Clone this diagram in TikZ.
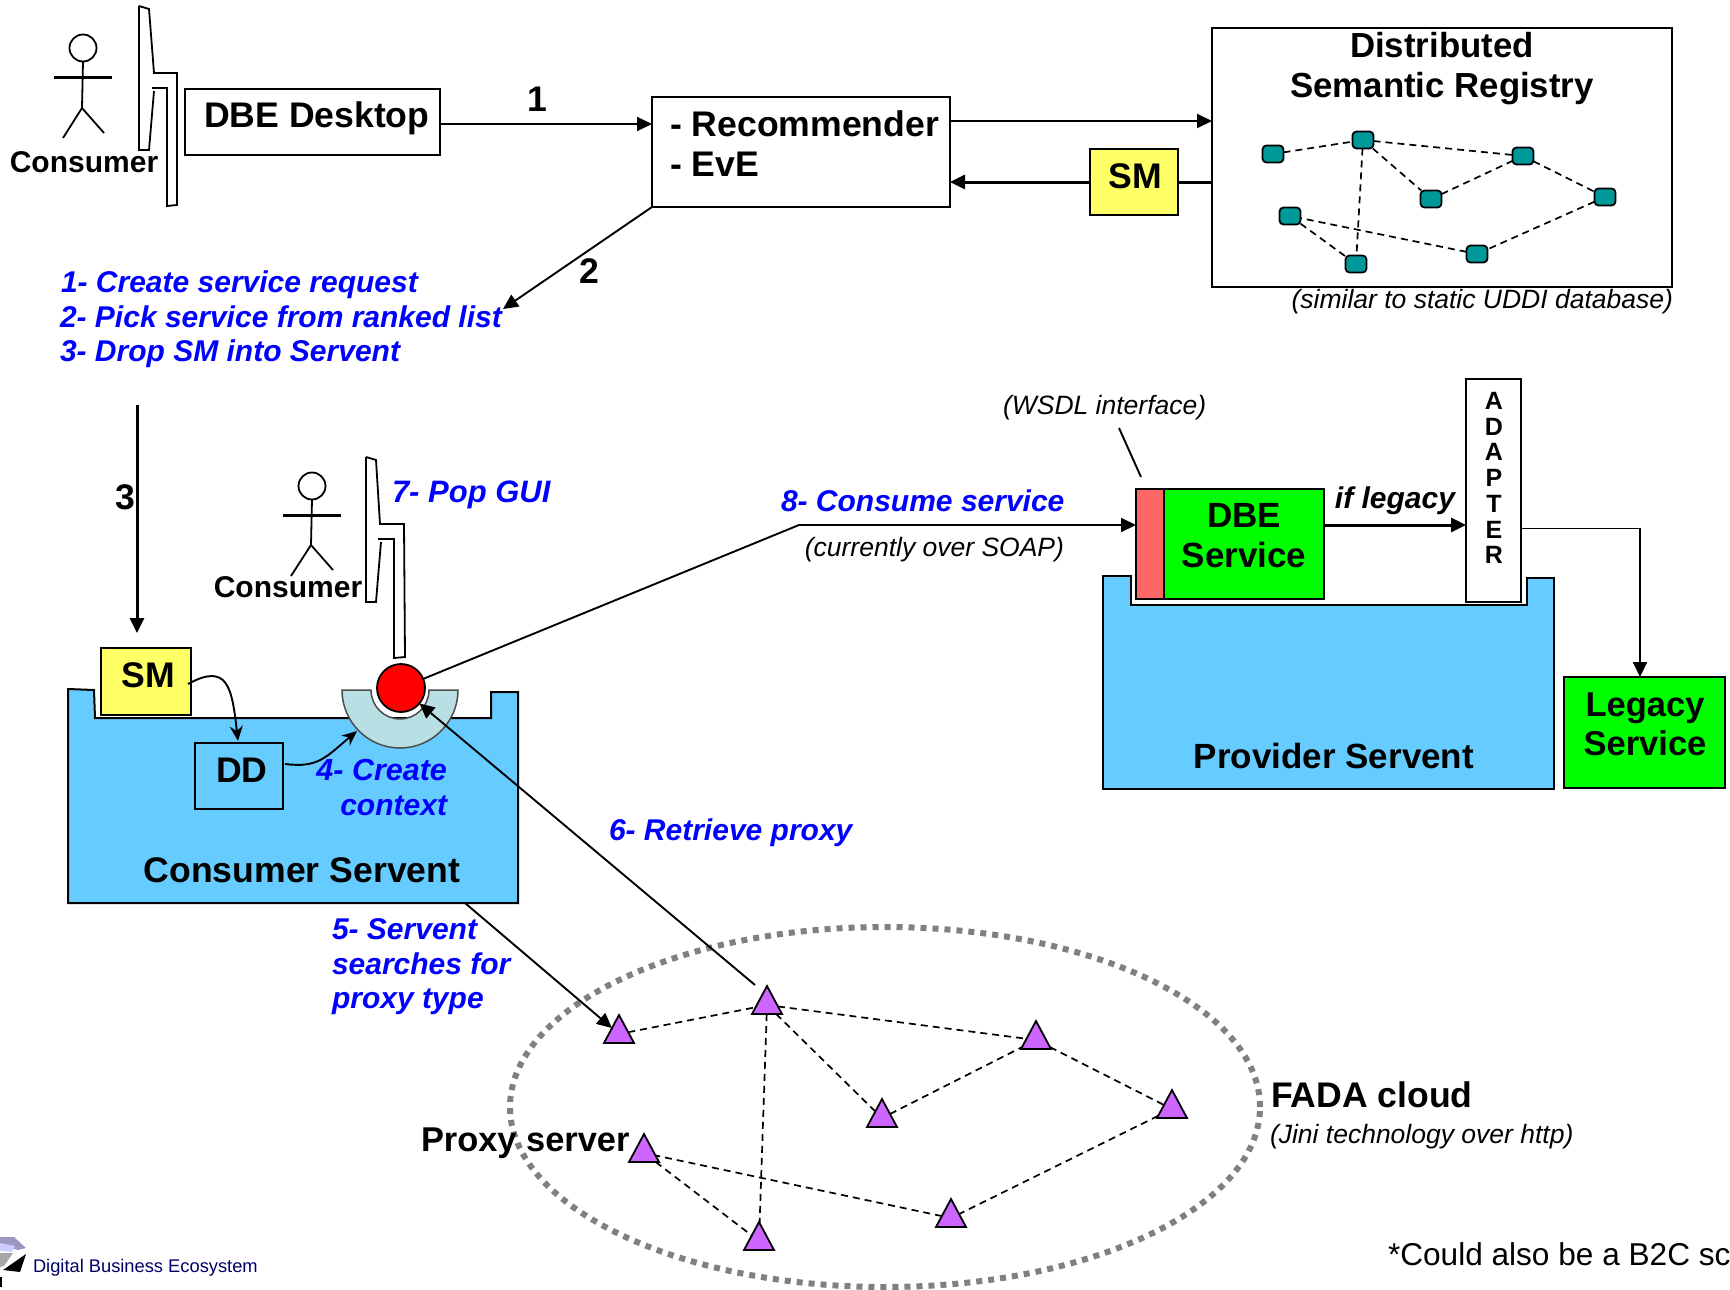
\documentclass[tikz,border=0pt]{standalone}
\usepackage{fontspec}
\setmainfont{Liberation Sans}
\usetikzlibrary{arrows.meta,shapes.geometric,calc}
\definecolor{dbeblue}{HTML}{0000FF}
\definecolor{sky}{HTML}{66CCFF}
\definecolor{smyellow}{HTML}{FFFF66}
\definecolor{dbegreen}{HTML}{00FF00}
\definecolor{wsdlpink}{HTML}{FF6666}
\definecolor{regteal}{HTML}{009999}
\definecolor{proxypurple}{HTML}{CC66FF}
\definecolor{bowlcol}{HTML}{B8DFE3}
\definecolor{navy}{HTML}{000066}
\tikzset{
  every node/.style={inner sep=0pt,outer sep=0pt},
  box/.style={draw=black,line width=2pt,rectangle},
  tb/.style={font=\fontsize{35}{40}\selectfont\bfseries,text=black,align=center},
  tbl/.style={font=\fontsize{35.6}{40}\selectfont\bfseries,text=black,align=center},
  tbs/.style={font=\fontsize{30}{34}\selectfont\bfseries,text=black,align=center},
  bluet/.style={font=\fontsize{30}{34.5}\selectfont\bfseries\itshape,text=dbeblue,align=left},
  note/.style={font=\fontsize{26.5}{30}\selectfont\itshape,text=black},
  thin line/.style={line width=1.9pt,draw=black},
  thick line/.style={line width=3pt,draw=black},
  tip/.style={-{Triangle[length=15pt,width=14pt]}},
  curvetip/.style={-{Stealth[length=15pt,width=13pt,inset=5pt]}},
  regnode/.style={draw=black,line width=1.8pt,fill=regteal,rectangle,rounded corners=4pt,minimum width=21pt,minimum height=17pt},
  proxy/.style={draw=black,line width=1.8pt,fill=proxypurple,isosceles triangle,shape border rotate=90,isosceles triangle stretches,minimum width=30pt,minimum height=28pt,anchor=apex},
  link/.style={line width=1.7pt,draw=black,dash pattern=on 7pt off 5pt},
  servent/.style={draw=black,line width=2pt,fill=sky},
  stick/.style={line width=1.8pt,draw=black},
  screen/.style={line width=1.8pt,draw=black}
}
\begin{document}
\begin{tikzpicture}[x=1pt,y=-1pt]
\useasboundingbox (0,0) rectangle (1730,1290);
\fill[white] (0,0) rectangle (1730,1290);

% servents
\draw[servent] (68,689) -- (94,690) -- (95,718) -- (491,718) -- (491,692) -- (518,692) -- (518,903) -- (68,903) -- cycle;
\draw[servent] (1103,576) -- (1131,576) -- (1131,605) -- (1527,605) -- (1527,578) -- (1554,578) -- (1554,789) -- (1103,789) -- cycle;

% consumer 1
\node[draw=black,line width=1.8pt,circle,minimum size=27pt] (head1) at (83,48) {};
\draw[stick] (head1.south) -- (82,108) (82,108) -- (63,138) (82,108) -- (104,133);
\draw[line width=3pt] (54,78) -- (112,78);
\node[tbs,anchor=base] (cons1) at (84,172) {Consumer};
\draw[screen] (139,6) -- (149,9) -- (154,73) -- (177,73) -- (177,205) -- (167,206) -- (167,88) -- (152,88);
\draw[screen] (154,91) -- (149,150) -- (139,150) -- (139,6);

% consumer 2
\node[draw=black,line width=1.8pt,circle,minimum size=27pt] (head2) at (312,486) {};
\draw[stick] (head2.south) -- (311,545) (311,545) -- (291,576) (311,545) -- (333,570);
\draw[line width=3pt] (283,515) -- (341,515);
\node[tbs,anchor=base] (cons2) at (288,597) {Consumer};
\draw[screen] (366,457) -- (376,460) -- (380,524) -- (404,524) -- (405,657) -- (394,658) -- (394,539) -- (378,539);
\draw[screen] (381,542) -- (376,602) -- (366,602) -- (366,457);

% top row boxes
\node[box,minimum width=255pt,minimum height=66pt] (desk) at (312,122) {};
\node[tbl,anchor=base west] (desklbl) at (204,128) {DBE Desktop};
\node[box,minimum width=298pt,minimum height=110pt] (rec) at (801,152) {};
\node[tbl,anchor=base west] (reclbl1) at (670,136) {- Recommender};
\node[tbl,anchor=base west] (reclbl2) at (670,176) {- EvE};
\node[box,minimum width=460pt,minimum height=258pt] (reg) at (1442,157.5) {};
\node[tb,font=\fontsize{34.8}{40}\selectfont\bfseries,anchor=base] (reglbl1) at (1442,58) {Distributed};
\node[tb,font=\fontsize{34.8}{40}\selectfont\bfseries,anchor=base] (reglbl2) at (1442,98) {Semantic Registry};
\node[box,fill=smyellow,minimum width=88pt,minimum height=66pt] (sm1) at (1134,182) {};
\node[tbl,anchor=base] (sm1lbl) at (1135,188) {SM};
\node[note,anchor=base east] (uddi) at (1673,308) {(similar to static UDDI database)};

% registry network
\node[regnode] (r1) at (1273,154) {};
\node[regnode] (r2) at (1363,140) {};
\node[regnode] (r3) at (1523,156) {};
\node[regnode] (r4) at (1431,199) {};
\node[regnode] (r5) at (1605,197) {};
\node[regnode] (r6) at (1290,216) {};
\node[regnode] (r7) at (1477,254) {};
\node[regnode] (r8) at (1356,264) {};
\draw[link] (r1) -- (r2);
\draw[link] (r2) -- (r3);
\draw[link] (r2) -- (r4);
\draw[link] (r4) -- (r3);
\draw[link] (r3) -- (r5);
\draw[link] (r5) -- (r7);
\draw[link] (r7) -- (r6);
\draw[link] (r6) -- (r8);
\draw[link] (r2) -- (r8);

% top connectors
\draw[thin line,tip] ([yshift=-2pt]desk.east) -- ([yshift=-2pt]desk.east -| rec.west);
\node[tbl,anchor=base] (n1) at (537,111) {1};
\draw[thin line,tip] ([yshift=31pt]rec.east) -- ([yshift=31pt]rec.east -| reg.west);
\draw[thick line,tip] (sm1.west) -- (sm1.west -| rec.east);
\draw[thick line] (sm1.east) -- (sm1.east -| reg.west);
\coordinate (listend) at (503,309);
\draw[thin line,tip] (rec.south west) -- (listend);
\node[tbl,anchor=base] (n2) at (589,283) {2};

% step list
\node[bluet,anchor=base west] (l1) at (61,292) {1- Create service request};
\node[bluet,anchor=base west] (l2) at (60,327) {2- Pick service from ranked list};
\node[bluet,anchor=base west] (l3) at (60,361) {3- Drop SM into Servent};

% step 3 arrow
\coordinate (s3a) at (137,405);
\coordinate (s3b) at (137,633);
\draw[thick line,tip] (s3a) -- (s3b);
\node[tbl,anchor=base] (n3) at (125,509) {3};

% consumer servent content
\node[box,fill=smyellow,minimum width=90pt,minimum height=67pt] (sm2) at (146,681.5) {};
\node[tbl,anchor=base] (sm2lbl) at (148,687) {SM};
\node[box,minimum width=88pt,minimum height=66pt] (dd) at (239,776) {};
\node[tbl,anchor=base] (ddlbl) at (242,782) {DD};
\draw[draw=black!70,line width=1.5pt,fill=bowlcol] (342,690) arc[start angle=180,end angle=0,radius=58] -- (429,690) arc[start angle=0,end angle=180,radius=29] -- cycle;
\node[circle,fill=white,minimum size=53pt] (halo) at (401,689) {};
\node[circle,draw=black,line width=1.8pt,fill=red,minimum size=48pt] (ctx) at (401,688) {};
\node[bluet,font=\fontsize{30.5}{34.5}\selectfont\bfseries\itshape,anchor=base east] (c4a) at (447,780) {4- Create};
\node[bluet,anchor=base east] (c4b) at (447,815) {context};
\node[tbl,anchor=base] (csv) at (302,882) {Consumer Servent};
\coordinate (smout) at (188,684);
\coordinate (ddin) at (238,741);
\draw[thin line,curvetip] (smout) .. controls (228,662) and (232,688) .. (ddin);
\coordinate (ddout) at (285,764);
\coordinate (bowlin) at (357,731);
\draw[thin line,curvetip] (ddout) .. controls (318,768) and (325,758) .. (bowlin);
\node[bluet,font=\fontsize{31}{34.5}\selectfont\bfseries\itshape,anchor=base west] (pop) at (392,502) {7- Pop GUI};

% provider side
\node[box,fill=wsdlpink,minimum width=28pt,minimum height=110pt] (wsdl) at (1150,544) {};
\node[box,fill=dbegreen,minimum width=160pt,minimum height=110pt] (dbe) at (1244,544) {};
\node[tb,anchor=base] (dbe1) at (1244,527) {DBE};
\node[tb,anchor=base] (dbe2) at (1244,567) {Service};
\node[box,fill=white,minimum width=55pt,minimum height=223pt] (adp) at (1493.5,490.5) {};
\node[font=\fontsize{25}{25.7}\selectfont\bfseries,align=center] (adplbl) at (1494,478) {A\\D\\A\\P\\T\\E\\R};
\node[box,fill=dbegreen,minimum width=161pt,minimum height=111pt] (leg) at (1644.5,732.5) {};
\node[tb,font=\fontsize{34.5}{40}\selectfont\bfseries,anchor=base] (leg1) at (1645,716) {Legacy};
\node[tb,font=\fontsize{34.5}{40}\selectfont\bfseries,anchor=base] (leg2) at (1645,755) {Service};
\node[tb,anchor=base] (prv) at (1334,768) {Provider Servent};
\draw[thick line,tip] ([yshift=19pt]dbe.east) -- ([yshift=19pt]dbe.east -| adp.west);
\node[font=\fontsize{30}{34}\selectfont\bfseries\itshape,anchor=base] (iflg) at (1395,508) {if legacy};
\draw[thin line,tip] ([yshift=-38pt]adp.east) -| (leg.north -| 1640,0);
\coordinate (wsdlnote) at (1119,428);
\coordinate (wsdltop) at (1141,477);
\draw[thin line] (wsdlnote) -- (wsdltop);
\node[note,anchor=base west] (wsdllbl) at (1003,414) {(WSDL interface)};
\coordinate (bend) at (799,525);
\draw[thin line,tip] (ctx) -- (bend) -- (bend -| wsdl.west);
\node[bluet,anchor=base west] (c8) at (781,511) {8- Consume service};
\node[note,anchor=base east] (soap) at (1064,556) {(currently over SOAP)};

% FADA cloud
\node[ellipse,draw=gray,line width=6pt,dash pattern=on 6pt off 6pt,minimum width=750pt,minimum height=360pt] (cloud) at (885,1107) {};
\node[proxy] (t1) at (619,1015) {};
\node[proxy] (t2) at (767,986) {};
\node[proxy] (t3) at (1036,1021) {};
\node[proxy] (t4) at (882,1099) {};
\node[proxy] (t5) at (1172,1090) {};
\node[proxy] (t6) at (644,1134) {};
\node[proxy] (t7) at (951,1199) {};
\node[proxy] (t8) at (759,1222) {};
\draw[link] (t1) -- (t2);
\draw[link] (t2) -- (t3);
\draw[link] (t2) -- (t4);
\draw[link] (t4) -- (t3);
\draw[link] (t3) -- (t5);
\draw[link] (t5) -- (t7);
\draw[link] (t7) -- (t6);
\draw[link] (t6) -- (t8);
\draw[link] (t2) -- (t8);
\coordinate (s5) at (465,903);
\draw[thin line,tip] (s5) -- (t1);
\coordinate (s6) at (755,985);
\draw[thin line,tip] (s6) -- (ctx);
\node[bluet,anchor=base west] (c5a) at (332,939) {5- Servent};
\node[bluet,anchor=base west] (c5b) at (332,974) {searches for};
\node[bluet,anchor=base west] (c5c) at (332,1008) {proxy type};
\node[bluet,anchor=base west] (c6) at (609,840) {6- Retrieve proxy};
\node[tb,font=\fontsize{34.4}{40}\selectfont\bfseries,anchor=base west] (pxy) at (421,1151) {Proxy server};
\node[tbl,anchor=base west] (fada) at (1271,1107) {FADA cloud};
\node[note,anchor=base west] (jini) at (1270,1143) {(Jini technology over http)};
\node[font=\fontsize{31.6}{34}\selectfont,anchor=base west] (b2c) at (1388,1265) {*Could also be a B2C sc};

% logo
\fill[color=black!60!blue!40] (0,1237) -- (14,1237) -- (26,1248) -- (18,1250) -- (0,1245) -- cycle;
\fill[color=blue!20] (0,1243) -- (15,1246) -- (12,1252) -- (0,1251) -- cycle;
\fill[color=gray!70] (0,1253) -- (13,1253) -- (4,1266) -- (0,1267) -- cycle;
\fill[black] (3,1270) -- (26,1254) -- (20,1272) -- cycle;
\fill[black] (0,1277) rectangle (2,1287);
\node[font=\fontsize{18.3}{20}\selectfont,text=navy,anchor=base west] (logo) at (33,1272) {Digital Business Ecosystem};
\end{tikzpicture}
\end{document}
